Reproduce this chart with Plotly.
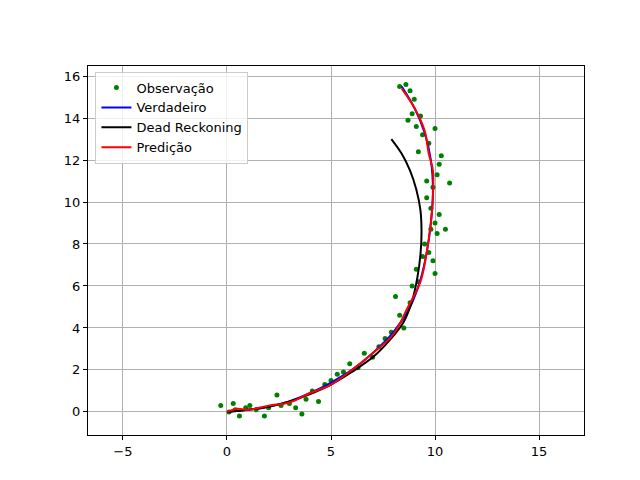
import plotly.graph_objects as go

true_x = [0,1,2,3,4,5,6,7,8,8.8,9.3,9.6,9.8,9.9,9.8,9.5,9.0,8.4]
true_y = [0,0.1,0.25,0.5,0.9,1.4,2.0,2.8,3.8,5.0,6.3,7.6,9.0,10.5,12.0,13.3,14.5,15.5]

pred_x = [0,0.5,1,2,3,4,5,6,7,8,8.7,9.3,9.6,9.8,9.9,9.9,9.7,9.5,9.0,8.4]
pred_y = [0,0.15,0.1,0.3,0.45,0.9,1.3,2.0,2.8,3.7,5.0,6.2,7.6,9.0,10.3,11.5,12.3,13.4,14.5,15.4]

dr_x = [0,1,2,3,4,5,6,7,7.8,8.5,8.9,9.15,9.3,9.35,9.3,9.1,8.8,8.4,7.9]
dr_y = [0,0.1,0.25,0.5,0.85,1.3,1.9,2.6,3.4,4.3,5.3,6.4,7.5,8.5,9.6,10.6,11.5,12.3,13.0]

obs_x = [-0.3,0.1,0.3,0.4,0.6,0.9,1.1,1.4,1.8,2.0,2.4,2.6,3.0,3.3,3.6,3.8,4.1,4.4,4.7,5.0,5.3,5.6,5.9,6.3,6.6,7.0,7.3,7.6,7.9,8.1,8.3,8.5,8.8,8.9,9.1,9.2,9.4,9.5,9.7,9.8,10.0,10.2,9.6,9.9,10.1,10.3,9.7,10.0,10.2,9.8,10.1,9.9,10.0,9.6,9.4,9.3,9.0,8.8,8.6,8.3,8.9,9.1,10.7,10.5,9.2,8.7]
obs_y = [0.3,0.0,0.4,0.1,-0.2,0.2,0.3,0.1,-0.2,0.2,0.8,0.3,0.4,0.2,-0.1,0.6,1.0,0.5,1.3,1.5,1.8,1.9,2.3,2.1,2.8,2.6,3.1,3.5,3.8,5.5,4.6,4.0,5.2,6.0,6.8,6.2,7.4,8.0,7.6,8.7,9.0,9.4,10.2,10.7,11.3,12.2,12.8,13.5,11.8,9.7,8.5,7.2,6.6,11.0,13.2,14.1,14.9,15.3,15.6,15.5,14.2,13.6,10.9,8.7,12.4,13.9]

fig = go.Figure()
fig.add_trace(go.Scatter(x=obs_x, y=obs_y, mode='markers', name='Observação',
                         marker=dict(color='green', size=5)))
fig.add_trace(go.Scatter(x=true_x, y=true_y, mode='lines', name='Verdadeiro',
                         line=dict(color='blue', width=2, shape='spline')))
fig.add_trace(go.Scatter(x=dr_x, y=dr_y, mode='lines', name='Dead Reckoning',
                         line=dict(color='black', width=2, shape='spline')))
fig.add_trace(go.Scatter(x=pred_x, y=pred_y, mode='lines', name='Predição',
                         line=dict(color='red', width=2, shape='spline')))

ax = dict(showgrid=True, gridcolor='#b0b0b0', gridwidth=1, zeroline=False,
          showline=True, linecolor='black', mirror=True, ticks='outside',
          ticklen=4, tickcolor='black', tickfont=dict(size=13, color='black'),
          automargin=False)
fig.update_layout(
    width=640, height=480, margin=dict(l=80, r=64, t=58, b=53),
    paper_bgcolor='white', plot_bgcolor='white',
    font=dict(family='DejaVu Sans', size=13, color='black'),
    xaxis=dict(range=[-6.68, 17.16], tickvals=[-5,0,5,10,15], **ax),
    yaxis=dict(range=[-1.1, 16.48], tickvals=[0,2,4,6,8,10,12,14,16], **ax),
    legend=dict(x=0.015, y=0.985, xanchor='left', yanchor='top',
                bgcolor='rgba(255,255,255,0.8)', bordercolor='#cccccc', borderwidth=1,
                font=dict(size=13), tracegroupgap=0),
    showlegend=True,
)
fig.write_html("out.html")
